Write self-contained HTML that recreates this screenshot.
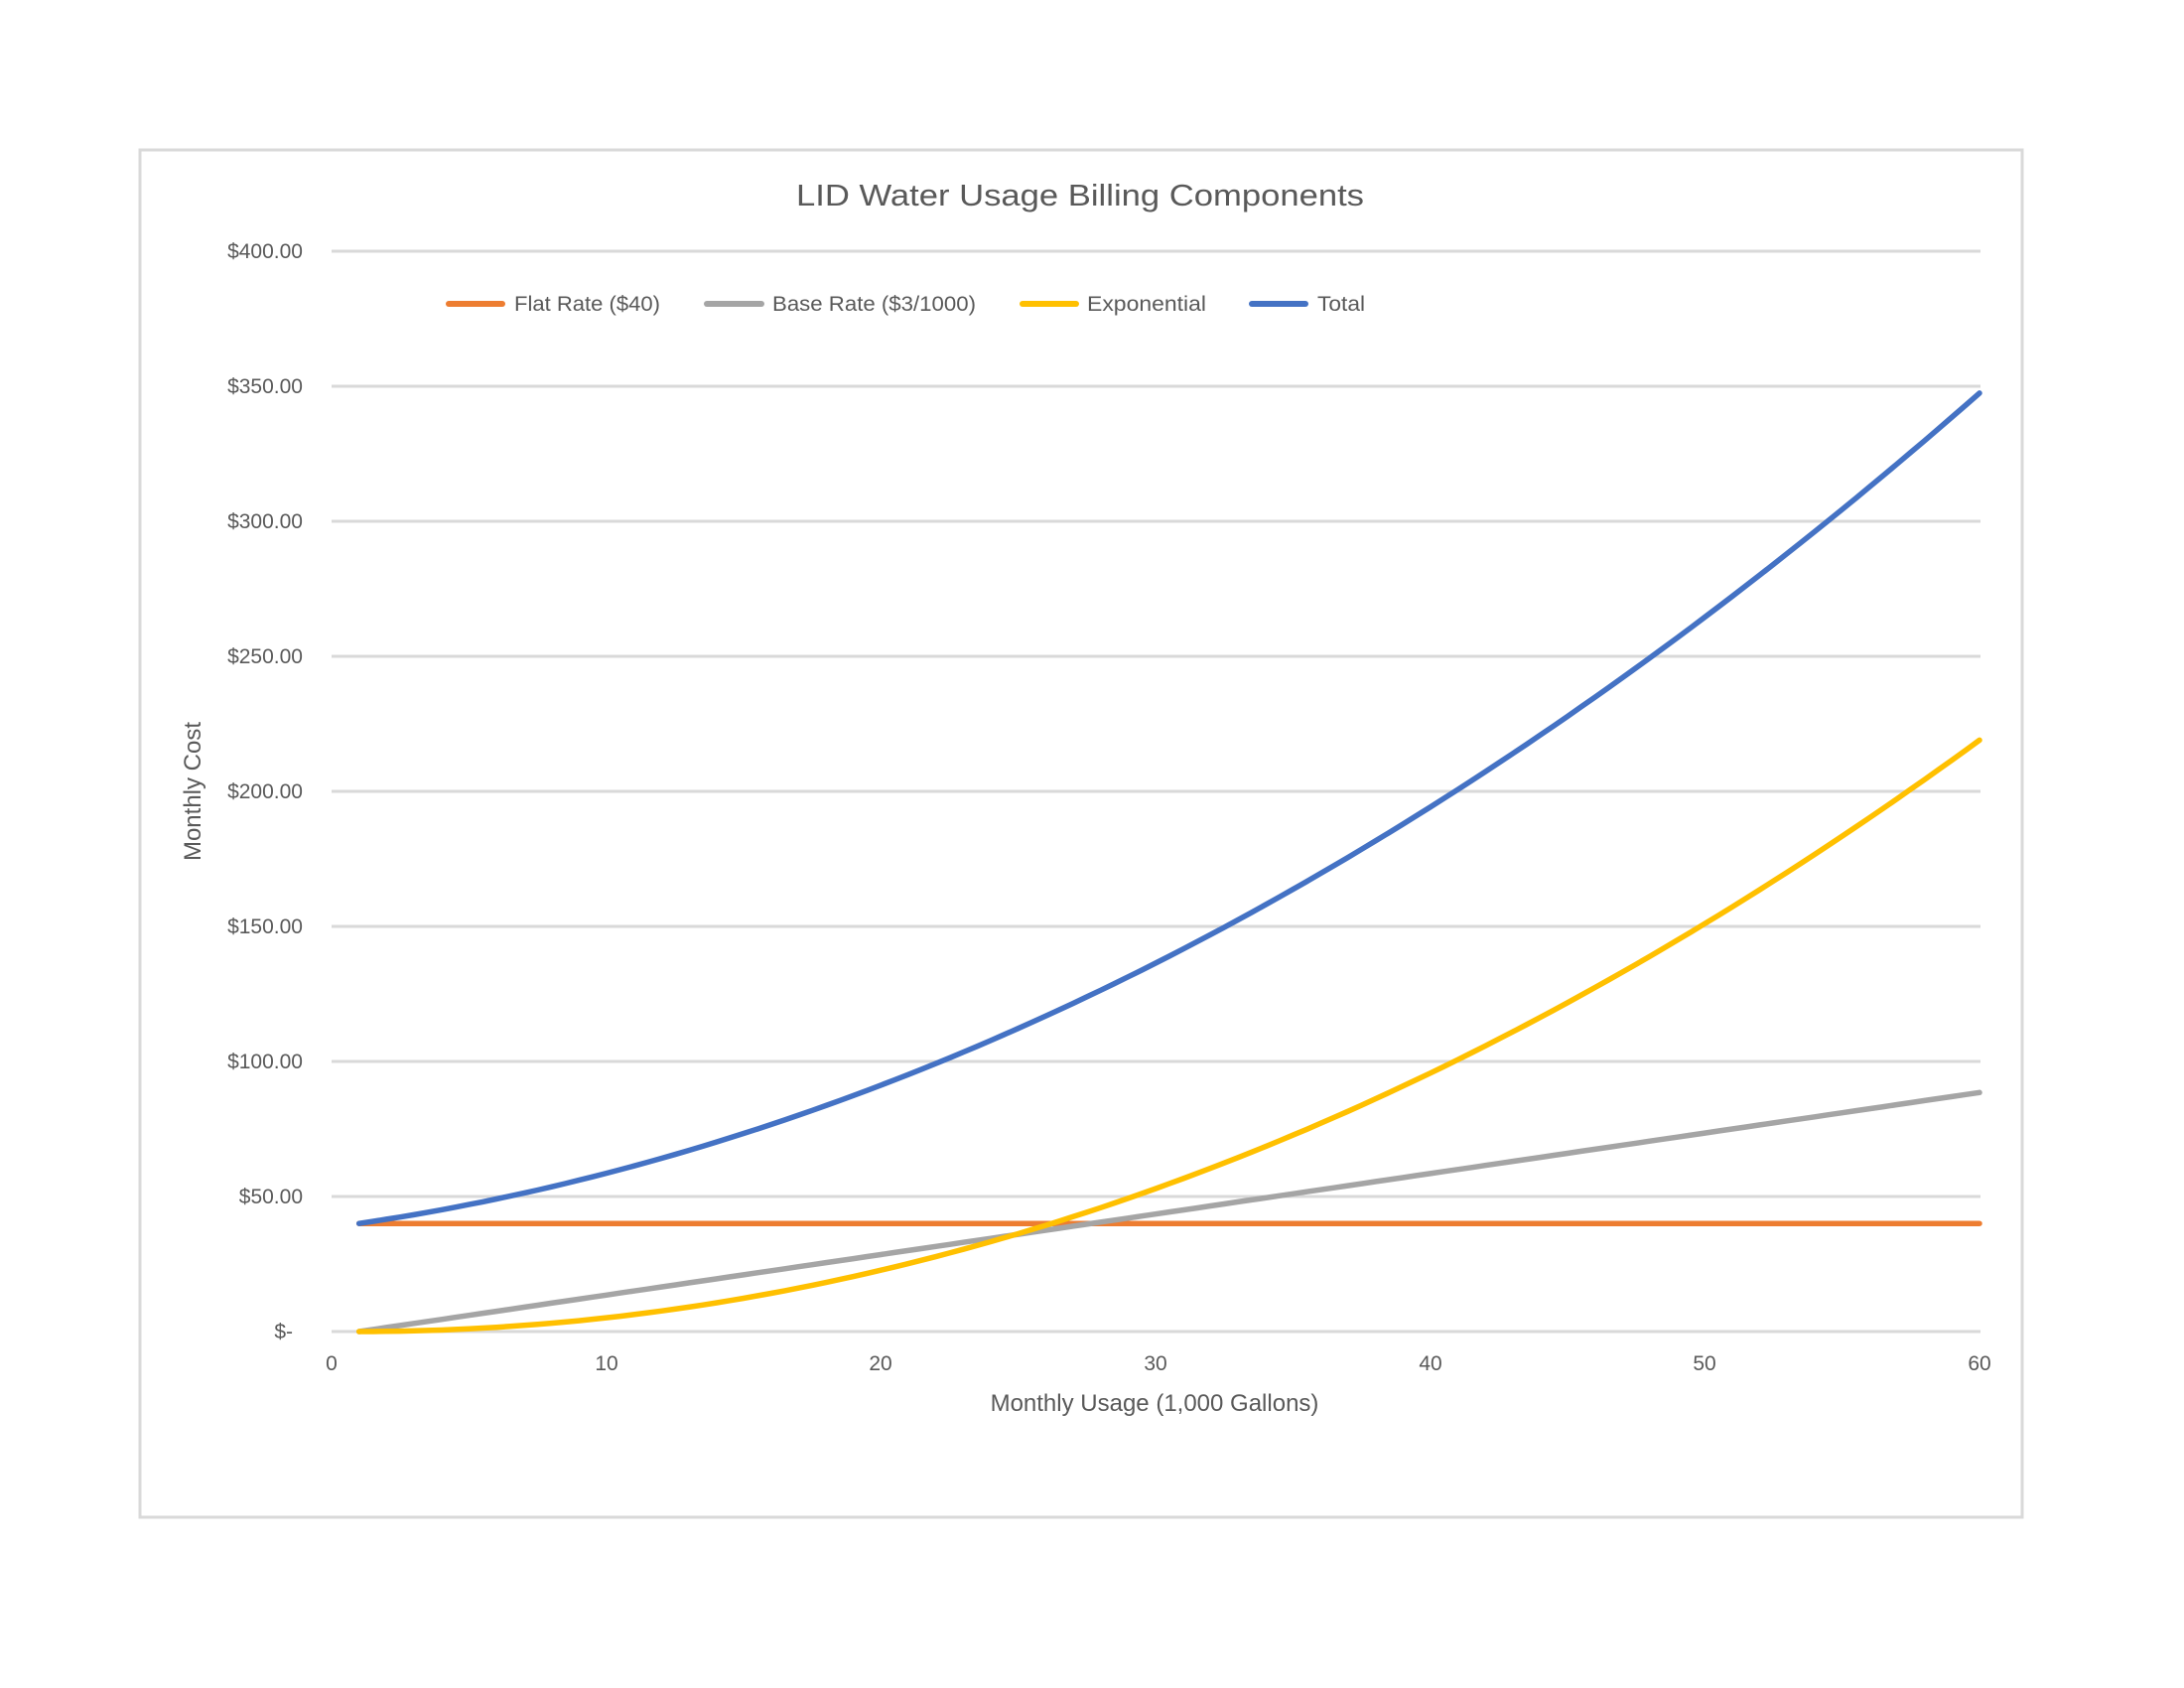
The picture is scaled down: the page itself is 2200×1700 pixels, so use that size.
<!DOCTYPE html>
<html><head><meta charset="utf-8"><style>
html,body{margin:0;padding:0;background:#fff;}
svg{display:block;font-family:"Liberation Sans",sans-serif;}
</style></head><body>
<svg id="s" width="2200" height="1700" viewBox="0 0 2200 1700" xmlns="http://www.w3.org/2000/svg">
<rect x="141" y="151" width="1896" height="1377" fill="#fff" stroke="#d9d9d9" stroke-width="3"/>
<g stroke="#d9d9d9" stroke-width="3">
<line x1="334" x2="1995" y1="253" y2="253"/>
<line x1="334" x2="1995" y1="389" y2="389"/>
<line x1="334" x2="1995" y1="525" y2="525"/>
<line x1="334" x2="1995" y1="661" y2="661"/>
<line x1="334" x2="1995" y1="797" y2="797"/>
<line x1="334" x2="1995" y1="933" y2="933"/>
<line x1="334" x2="1995" y1="1069" y2="1069"/>
<line x1="334" x2="1995" y1="1205" y2="1205"/>
<line x1="334" x2="1995" y1="1341" y2="1341"/>
</g>
<text x="1088" y="207" font-size="31" fill="#595959" text-anchor="middle" textLength="572" lengthAdjust="spacingAndGlyphs">LID Water Usage Billing Components</text>
<g font-size="21" fill="#595959" text-anchor="end">
<text x="305" y="260">$400.00</text>
<text x="305" y="396">$350.00</text>
<text x="305" y="532">$300.00</text>
<text x="305" y="668">$250.00</text>
<text x="305" y="804">$200.00</text>
<text x="305" y="940">$150.00</text>
<text x="305" y="1076">$100.00</text>
<text x="305" y="1212">$50.00</text>
<text x="295" y="1348">$-</text>
</g>
<g font-size="21" fill="#595959" text-anchor="middle">
<text x="334" y="1380">0</text>
<text x="611" y="1380">10</text>
<text x="887" y="1380">20</text>
<text x="1164" y="1380">30</text>
<text x="1441" y="1380">40</text>
<text x="1717" y="1380">50</text>
<text x="1994" y="1380">60</text>
</g>
<text x="1163" y="1421" font-size="24" fill="#595959" text-anchor="middle">Monthly Usage (1,000 Gallons)</text>
<text transform="translate(202,797) rotate(-90)" font-size="24" fill="#595959" text-anchor="middle">Monthly Cost</text>
<g stroke-width="6" stroke-linecap="round">
<line x1="452" x2="506" y1="306" y2="306" stroke="#ED7D31"/>
<line x1="712" x2="767" y1="306" y2="306" stroke="#A5A5A5"/>
<line x1="1030" x2="1084" y1="306" y2="306" stroke="#FFC000"/>
<line x1="1261" x2="1315" y1="306" y2="306" stroke="#4472C4"/>
</g>
<g font-size="21" fill="#595959">
<text x="518" y="313" textLength="147" lengthAdjust="spacingAndGlyphs">Flat Rate ($40)</text>
<text x="778" y="313" textLength="205" lengthAdjust="spacingAndGlyphs">Base Rate ($3/1000)</text>
<text x="1095" y="313" textLength="120" lengthAdjust="spacingAndGlyphs">Exponential</text>
<text x="1327" y="313" textLength="48" lengthAdjust="spacingAndGlyphs">Total</text>
</g>
<g id="series" fill="none" stroke-width="5.5" stroke-linejoin="round" stroke-linecap="round"></g>
</svg>
<script>
(function(){
var g=document.getElementById('series');
function X(x){return 334+x*(1660/60);}
function Y(v){return 1341-v*2.72;}
var fns=[
 ['#ED7D31',function(x){return 40;}],
 ['#A5A5A5',function(x){return 1.5*(x-1);}],
 ['#FFC000',function(x){return 0.0629*(x-1)*(x-1);}],
 ['#4472C4',function(x){return 40+1.5*(x-1)+0.0629*(x-1)*(x-1);}]
];
fns.forEach(function(f){
 var d='';
 for(var x=1;x<=60.001;x+=0.5){d+=(d?' L':'M')+X(x).toFixed(1)+' '+Y(f[1](x)).toFixed(1);}
 var p=document.createElementNS('http://www.w3.org/2000/svg','path');
 p.setAttribute('d',d);p.setAttribute('stroke',f[0]);g.appendChild(p);
});
})();
</script>
</body></html>
